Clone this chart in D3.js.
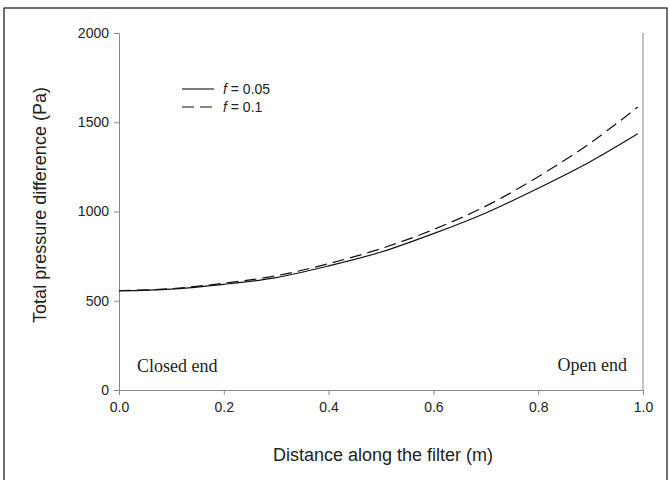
<!DOCTYPE html>
<html>
<head>
<script src="https://d3js.org/d3.v7.min.js"></script>
<style>
  body { margin: 0; background: #fff; }
  svg text { font-family: "Liberation Sans", Arial, sans-serif; fill: #222; }
</style>
</head>
<body>
<div id="chart"></div>
<script>
// distance along filter (m)
const distance = [0, 0.1, 0.2, 0.3, 0.4, 0.5, 0.6, 0.7, 0.8, 0.9, 0.99];
// total pressure difference (Pa)
const f005 = [555, 565, 592, 630, 695, 773, 876, 992, 1130, 1280, 1435];
const f01 = [557, 568, 598, 640, 708, 792, 899, 1030, 1195, 1385, 1585];
const xTicks = [0, 0.2, 0.4, 0.6, 0.8, 1.0];
const yTicks = [0, 500, 1000, 1500, 2000];
const series = [
  { label: "0.05", values: f005, dash: null },
  { label: "0.1", values: f01, dash: "12,6" }
];

const width = 670, height = 480;
const plotLeft = 119, plotRight = 643, plotTop = 33, plotBottom = 390;

const svg = d3.select("#chart").append("svg")
  .attr("width", width).attr("height", height);

// outer frame
svg.append("rect")
  .attr("x", 4).attr("y", 8)
  .attr("width", 663).attr("height", 480)
  .attr("fill", "none").attr("stroke", "#111").attr("stroke-width", 1.2);

const x = d3.scaleLinear().domain([0, 1]).range([plotLeft, plotRight]);
const y = d3.scaleLinear().domain([0, 2000]).range([plotBottom, plotTop]);

const xAxis = svg.append("g")
  .attr("transform", `translate(0,${plotBottom})`)
  .call(d3.axisBottom(x).tickValues(xTicks).tickFormat(d3.format(".1f")).tickSize(5).tickPadding(7));
const yAxis = svg.append("g")
  .attr("transform", `translate(${plotLeft},0)`)
  .call(d3.axisLeft(y).tickValues(yTicks).tickFormat(d3.format("d")).tickSize(5).tickPadding(5));

[xAxis, yAxis].forEach(a => {
  a.select(".domain").attr("stroke", "#888");
  a.selectAll(".tick line").attr("stroke", "#888");
  a.selectAll(".tick text").attr("fill", "#222").style("font-size", "14px");
});

// right frame line
svg.append("line")
  .attr("x1", x(1)).attr("x2", x(1))
  .attr("y1", y(0)).attr("y2", y(2000))
  .attr("stroke", "#888");

const line = d3.line()
  .x((d, i) => x(distance[i]))
  .y(d => y(d))
  .curve(d3.curveMonotoneX);

series.forEach(s => {
  svg.append("path")
    .datum(s.values)
    .attr("d", line)
    .attr("fill", "none")
    .attr("stroke", "#111")
    .attr("stroke-width", 1.2)
    .attr("stroke-dasharray", s.dash);
});

// legend
series.forEach((s, i) => {
  const ly = 89 + i * 18;
  svg.append("line")
    .attr("x1", 182).attr("x2", 214)
    .attr("y1", ly).attr("y2", ly)
    .attr("stroke", "#111").attr("stroke-width", 1.1)
    .attr("stroke-dasharray", s.dash);
  const t = svg.append("text")
    .attr("x", 223).attr("y", ly + 5)
    .style("font-size", "14px");
  t.append("tspan").style("font-style", "italic").text("f");
  t.append("tspan").text(" = " + s.label);
});

// end labels
svg.append("text")
  .attr("x", 137).attr("y", 372)
  .style("font-family", "'Liberation Serif', 'Times New Roman', serif")
  .style("font-size", "18px")
  .text("Closed end");
svg.append("text")
  .attr("x", 627).attr("y", 371)
  .attr("text-anchor", "end")
  .style("font-family", "'Liberation Serif', 'Times New Roman', serif")
  .style("font-size", "18px")
  .text("Open end");

// axis titles
svg.append("text")
  .attr("x", 383).attr("y", 461)
  .attr("text-anchor", "middle")
  .style("font-size", "18px")
  .text("Distance along the filter (m)");
svg.append("text")
  .attr("transform", `translate(46,205) rotate(-90)`)
  .attr("text-anchor", "middle")
  .style("font-size", "18px")
  .text("Total pressure difference (Pa)");
</script>
</body>
</html>
